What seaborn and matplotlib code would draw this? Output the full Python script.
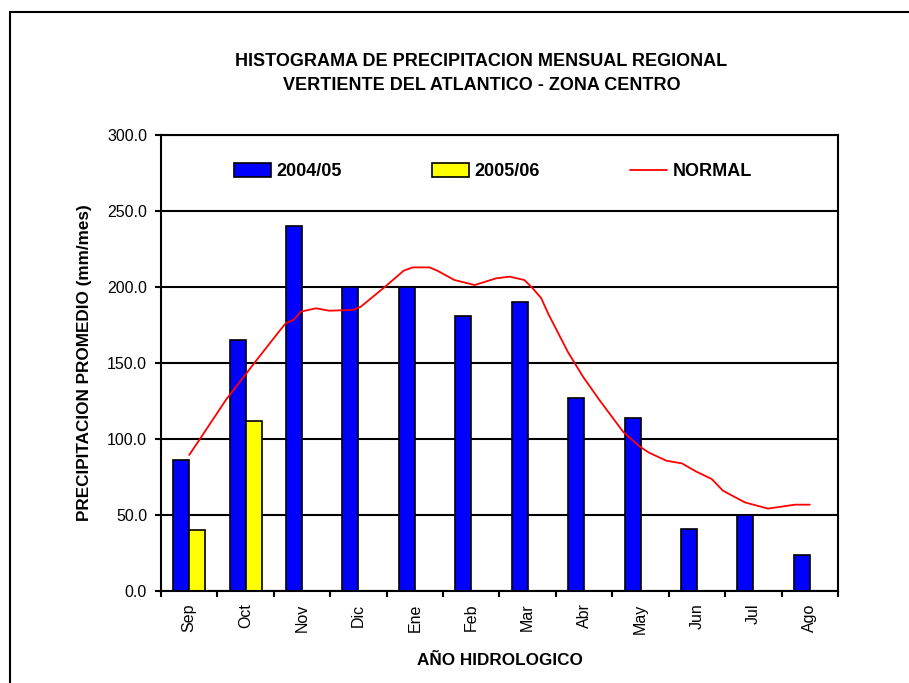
import numpy as np
import pandas as pd
import seaborn as sns
import matplotlib
matplotlib.use('Agg')
import matplotlib.pyplot as plt
from matplotlib.patches import Patch, Rectangle
from matplotlib.lines import Line2D
from matplotlib.ticker import FormatStrFormatter

sns.set_style('white')
plt.rcParams['font.family'] = ['Liberation Sans', 'DejaVu Sans']
plt.rcParams['text.color'] = 'black'
plt.rcParams['axes.labelcolor'] = 'black'
plt.rcParams['xtick.color'] = 'black'
plt.rcParams['ytick.color'] = 'black'

# datos
meses = ['Sep', 'Oct', 'Nov', 'Dic', 'Ene', 'Feb', 'Mar', 'Abr', 'May', 'Jun', 'Jul', 'Ago']
pp_2004 = [86, 165, 240, 200, 200, 181, 190, 127, 114, 41, 50, 24]
pp_2005 = [40, 112, np.nan, np.nan, np.nan, np.nan, np.nan, np.nan, np.nan, np.nan, np.nan, np.nan]
series = ['2004/05', '2005/06']

# normal (posicion en meses desde Sep)
normal_pos = [0.0, 0.14, 0.65, 1.15, 1.59, 1.71, 1.86, 1.98, 2.25, 2.48, 2.90, 3.04, 3.46, 3.80,
              3.96, 4.26, 4.40, 4.70, 5.06, 5.44, 5.68, 5.94, 6.09, 6.24, 6.36, 6.71, 6.98,
              7.27, 7.69, 7.99, 8.15, 8.46, 8.73, 8.99, 9.26, 9.46, 9.85, 10.26, 10.74, 11.0]
normal_val = [89.5, 97.2, 125.7, 149.8, 170.6, 176.1, 178.7, 183.8, 186.0, 184.4, 184.9, 187.0,
              199.8, 210.7, 212.9, 212.9, 210.7, 204.6, 201.3, 205.7, 206.8, 204.6, 199.1, 192.6,
              182.7, 157.4, 141.0, 125.7, 104.8, 94.9, 91.0, 85.7, 84.0, 78.5, 73.7, 66.0, 58.3,
              54.2, 56.8, 56.8]

df = pd.DataFrame({
    'mes': meses * 2,
    'pp': pp_2004 + pp_2005,
    'serie': [series[0]] * 12 + [series[1]] * 12,
})
colores = {'2004/05': '#0000ff', '2005/06': '#ffff00'}

fig = plt.figure(figsize=(9.09, 6.83), dpi=100)
ax = fig.add_axes([161 / 909, 92 / 683, 677 / 909, 456 / 683])

sns.barplot(data=df, x='mes', y='pp', hue='serie', hue_order=series, order=meses,
            palette=colores, saturation=1, width=0.568, gap=0, edgecolor='black',
            linewidth=1.2, legend=False, ax=ax, zorder=2)
sns.lineplot(x=normal_pos, y=normal_val, color='#ff0000', lw=1.3, sort=False,
             estimator=None, ax=ax, zorder=3)

ax.set_xlim(-0.5, 11.5)
ax.set_ylim(0, 300)
ax.set_yticks(np.arange(0, 301, 50))
ax.yaxis.set_major_formatter(FormatStrFormatter('%.1f'))
ax.set_axisbelow(True)
ax.yaxis.grid(True, color='black', lw=1.5)
ax.xaxis.grid(False)
for s in ax.spines.values():
    s.set_color('black')
    s.set_linewidth(1.5)

ax.set_xticks(range(12))
ax.set_xticklabels(meses, rotation=90, fontsize=11.5)
ax.set_xticks(np.arange(-0.5, 12, 1), minor=True)
ax.tick_params(axis='x', which='major', length=0, pad=9)
ax.tick_params(axis='x', which='minor', length=4, width=1.5, color='black', direction='out', bottom=True)
ax.tick_params(axis='y', length=4, width=1.5, color='black', direction='out', left=True, labelsize=11.5, pad=6)

ax.set_xlabel('AÑO HIDROLOGICO', fontsize=12.3, fontweight='bold', labelpad=14)
ax.set_ylabel('PRECIPITACION PROMEDIO (mm/mes)', fontsize=12.3, fontweight='bold', labelpad=11)

handles = [Patch(facecolor=colores['2004/05'], edgecolor='black', lw=1.2),
           Patch(facecolor=colores['2005/06'], edgecolor='black', lw=1.2),
           Line2D([], [], color='#ff0000', lw=1.3)]
leg = ax.legend(handles, ['2004/05', '2005/06', 'NORMAL'], ncol=3, frameon=False,
                loc='center left', bbox_to_anchor=(0.1075, 0.919), borderpad=0, borderaxespad=0,
                handlelength=2.05, handleheight=0.78, handletextpad=0.3, columnspacing=5.0,
                prop={'size': 13, 'weight': 'bold'})

fig.text(481.5 / 909, 1 - 61 / 683, 'HISTOGRAMA DE PRECIPITACION MENSUAL REGIONAL',
         ha='center', va='center', fontsize=13, fontweight='bold')
fig.text(481.5 / 909, 1 - 86 / 683, 'VERTIENTE DEL ATLANTICO - ZONA CENTRO',
         ha='center', va='center', fontsize=13, fontweight='bold')

# marco exterior
fig.patches.append(Rectangle((10 / 909, -0.05), 1.0, 1.05 - 12 / 683, transform=fig.transFigure,
                             fill=False, edgecolor='black', lw=1.5))

fig.savefig('out.png', dpi=100)
